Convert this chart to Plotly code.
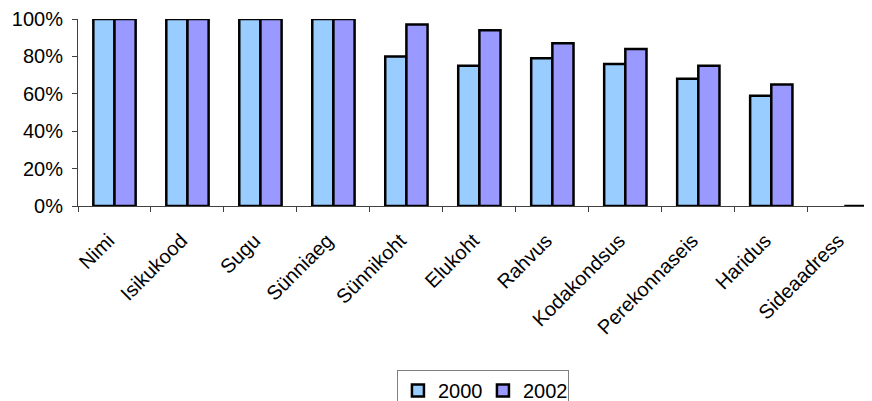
import plotly.graph_objects as go

categories = ["Nimi", "Isikukood", "Sugu", "Sünniaeg", "Sünnikoht", "Elukoht",
              "Rahvus", "Kodakondsus", "Perekonnaseis", "Haridus", "Sideaadress"]
values_2000 = [100, 100, 100, 100, 80, 75, 79, 76, 68, 59, None]
values_2002 = [100, 100, 100, 100, 97, 94, 87, 84, 75, 65, 0]
series_names = ["2000", "2002"]
colors = ["#99CCFF", "#9999FF"]
y_ticks = [0, 20, 40, 60, 80, 100]
y_ticktext = ["0%", "20%", "40%", "60%", "80%", "100%"]

fig = go.Figure()
for name, vals, col in zip(series_names, [values_2000, values_2002], colors):
    fig.add_trace(go.Bar(
        x=categories, y=vals, name=name,
        marker=dict(color=col, line=dict(color="black", width=2.5)),
    ))

font_family = "Liberation Sans, Arial, sans-serif"
fig.update_layout(
    width=864, height=393,
    margin=dict(l=70, r=0, t=11, b=195, autoexpand=False),
    plot_bgcolor="white", paper_bgcolor="white",
    barmode="group", bargap=0.42, bargroupgap=0,
    font=dict(family=font_family, size=20, color="black"),
    showlegend=True,
    legend=dict(
        orientation="h", x=0.51, xanchor="center", y=-0.877, yanchor="top",
        bordercolor="#808080", borderwidth=1, font=dict(size=20),
        itemwidth=30, tracegroupgap=0, entrywidth=40, entrywidthmode="pixels",
    ),
    xaxis=dict(
        range=[-0.5, 10.38], tickangle=-45, showline=True, linecolor="#404040",
        linewidth=1, ticks="outside", tickson="boundaries", ticklen=5,
        tickcolor="#404040", showgrid=False, zeroline=False,
        ticklabelstandoff=14, ticklabelshift=-6,
    ),
    yaxis=dict(
        range=[0, 100], tickvals=y_ticks, ticktext=y_ticktext,
        showline=True, linecolor="#404040", linewidth=1, ticks="outside",
        ticklen=5, tickcolor="#404040", showgrid=False, zeroline=False,
        ticklabelstandoff=5,
    ),
)

fig.write_html("out.html")
